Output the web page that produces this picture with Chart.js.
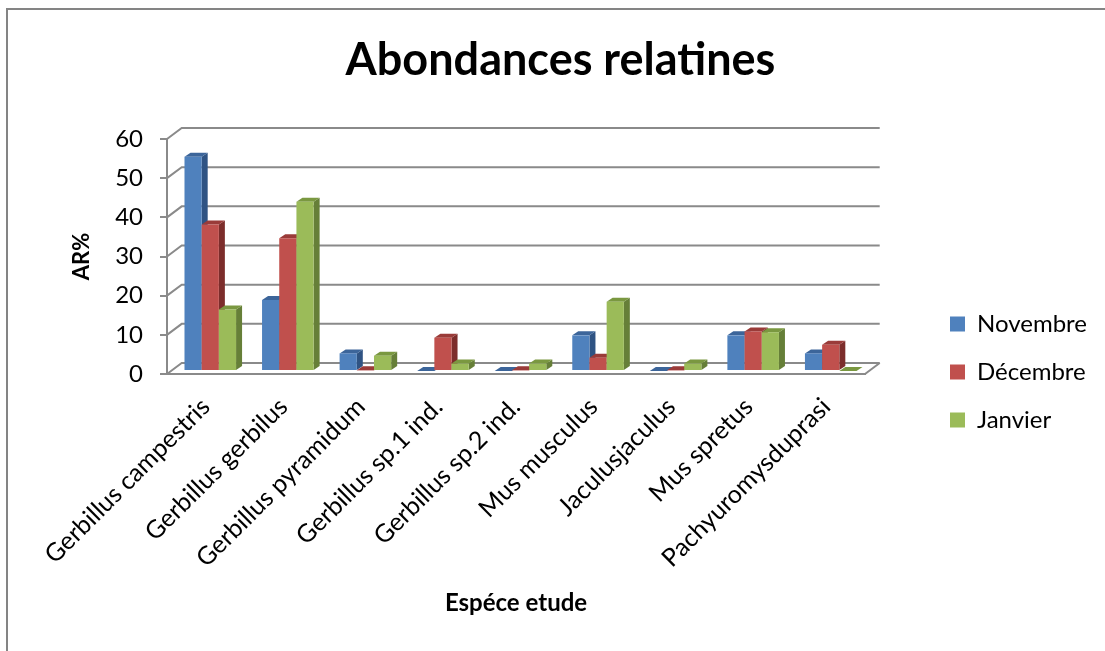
<!DOCTYPE html>
<html lang="fr">
<head>
<meta charset="utf-8">
<title>Abondances relatines</title>
<script src="https://cdn.jsdelivr.net/npm/chart.js@4"></script>
<style>
    html, body { margin: 0; padding: 0; background: #fff; }
    canvas { display: block; }
</style>
</head>
<body>
<canvas id="graphique" width="1105" height="651"></canvas>
<script>
const especes = [
    'Gerbillus campestris', 'Gerbillus gerbilus', 'Gerbillus pyramidum',
    'Gerbillus sp.1 ind.', 'Gerbillus sp.2 ind.', 'Mus musculus',
    'Jaculusjaculus', 'Mus spretus', 'Pachyuromysduprasi'
];
const novembre = [54.7, 18.1, 4.5, 0, 0, 9.1, 0, 9.1, 4.5];
const decembre = [37.4, 33.9, 0.2, 8.5, 0.2, 3.4, 0.2, 10.1, 6.7];
const janvier = [15.7, 43.2, 3.9, 1.9, 1.9, 17.7, 1.9, 9.9, 0];

// Teintes : face avant, côté, dessus
const bleu = ['#4F81BD', '#2F5383', '#3C659A'];
const rouge = ['#C0504D', '#7C2D2B', '#9A3B39'];
const vert = ['#9BBB59', '#667F38', '#7A9840'];

const GRIS = '#8A8A8A';
const POLICE = 'Lato, "Open Sans", sans-serif';

// Décalage du mur du fond et des barres par rapport au plan avant des axes
const FOND_X = 14.7, FOND_Y = -11;
const BARRE_X = 4.5, BARRE_Y = -3;
const COTE_X = 6, COTE_Y = -4;

function polygone(ctx, couleur, points) {
    ctx.fillStyle = couleur;
    ctx.beginPath();
    points.forEach((p, i) => i ? ctx.lineTo(p[0], p[1]) : ctx.moveTo(p[0], p[1]));
    ctx.closePath();
    ctx.fill();
}

// Cadre extérieur, plancher et lignes du mur
const pluginDecor = {
    id: 'decor',
    beforeDraw(chart) {
        const ctx = chart.ctx;
        ctx.save();
        ctx.strokeStyle = '#848484';
        ctx.lineWidth = 2;
        ctx.strokeRect(7, 9, 1300, 900);
        ctx.restore();
    },
    // On redessine les barres soi-même : chaque série recouvre le côté de la précédente
    beforeDatasetsDraw(chart) {
        const ctx = chart.ctx;
        const { left, right } = chart.chartArea;
        const axeY = chart.scales.y;

        ctx.save();
        ctx.strokeStyle = GRIS;
        ctx.lineWidth = 2;
        axeY.ticks.forEach(t => {
            const y = axeY.getPixelForValue(t.value);
            ctx.beginPath();
            ctx.moveTo(left, y);
            ctx.lineTo(left + FOND_X, y + FOND_Y);
            ctx.lineTo(right + FOND_X, y + FOND_Y);
            ctx.stroke();
        });
        const bas = axeY.getPixelForValue(0);
        ctx.beginPath();
        ctx.moveTo(right, bas);
        ctx.lineTo(right + FOND_X, bas + FOND_Y);
        ctx.stroke();

        ctx.translate(BARRE_X, BARRE_Y);
        const teintes = [bleu, rouge, vert];
        especes.forEach((_, i) => {
            teintes.forEach((teinte, d) => {
                const barre = chart.getDatasetMeta(d).data[i];
                const g = barre.x - barre.width / 2;
                const dr = barre.x + barre.width / 2;
                polygone(ctx, teinte[1], [
                    [dr, barre.y], [dr + COTE_X, barre.y + COTE_Y],
                    [dr + COTE_X, barre.base + COTE_Y], [dr, barre.base]
                ]);
                polygone(ctx, teinte[2], [
                    [g, barre.y], [g + COTE_X, barre.y + COTE_Y],
                    [dr + COTE_X, barre.y + COTE_Y], [dr, barre.y]
                ]);
                barre.draw(ctx);
            });
        });
        ctx.restore();
        return false;
    },
    // Titre et légende placés à la main, hors du calcul de la zone du graphique
    afterLayout(chart) {
        const titre = chart.titleBlock;
        titre.left = 16;
        titre.right = 1105;
        titre.top = 35;
        titre.bottom = 85;
        const legende = chart.legend;
        legende.left = 926;
        legende.right = 1105;
        legende.top = 288;
        legende.bottom = 480;
    }
};

new Chart(document.getElementById('graphique'), {
    type: 'bar',
    data: {
        labels: especes,
        datasets: [
            { label: 'Novembre', data: novembre, backgroundColor: bleu[0] },
            { label: 'Décembre', data: decembre, backgroundColor: rouge[0] },
            { label: 'Janvier', data: janvier, backgroundColor: vert[0] }
        ]
    },
    options: {
        responsive: false,
        animation: false,
        categoryPercentage: 0.665,
        barPercentage: 1,
        layout: {
            autoPadding: false,
            padding: { left: 0, right: 140, top: 87.7, bottom: 0 }
        },
        plugins: {
            tooltip: { enabled: false },
            title: {
                display: true,
                text: 'Abondances relatines',
                color: '#000',
                padding: 0,
                font: { family: POLICE, size: 45, weight: 'bold', lineHeight: 1.14 }
            },
            legend: {
                position: 'right',
                align: 'start',
                maxWidth: 100,
                labels: {
                    color: '#000',
                    boxWidth: 15,
                    boxHeight: 15,
                    padding: 24,
                    font: { family: POLICE, size: 24 }
                }
            }
        },
        scales: {
            x: {
                afterFit(axe) { axe.height = 277; },
                grid: { display: false },
                border: { color: GRIS, width: 2 },
                ticks: {
                    color: '#000',
                    minRotation: 45,
                    maxRotation: 45,
                    autoSkip: false,
                    padding: 10,
                    font: { family: POLICE, size: 25 }
                },
                title: {
                    display: true,
                    text: 'Espéce etude',
                    color: '#000',
                    padding: { top: 0, bottom: 33 },
                    font: { family: POLICE, size: 24, weight: 'bold' }
                }
            },
            y: {
                min: 0,
                max: 60,
                afterFit(axe) { axe.width = 167; },
                grid: { color: GRIS, lineWidth: 2, drawOnChartArea: false, tickLength: 7 },
                border: { color: GRIS, width: 2 },
                ticks: {
                    color: '#000',
                    stepSize: 10,
                    padding: 17,
                    font: { family: POLICE, size: 24 }
                },
                title: {
                    display: true,
                    text: 'AR%',
                    color: '#000',
                    padding: { top: 69, bottom: 0 },
                    font: { family: POLICE, size: 22, weight: 'bold' }
                }
            }
        }
    },
    plugins: [pluginDecor]
});
</script>
</body>
</html>
